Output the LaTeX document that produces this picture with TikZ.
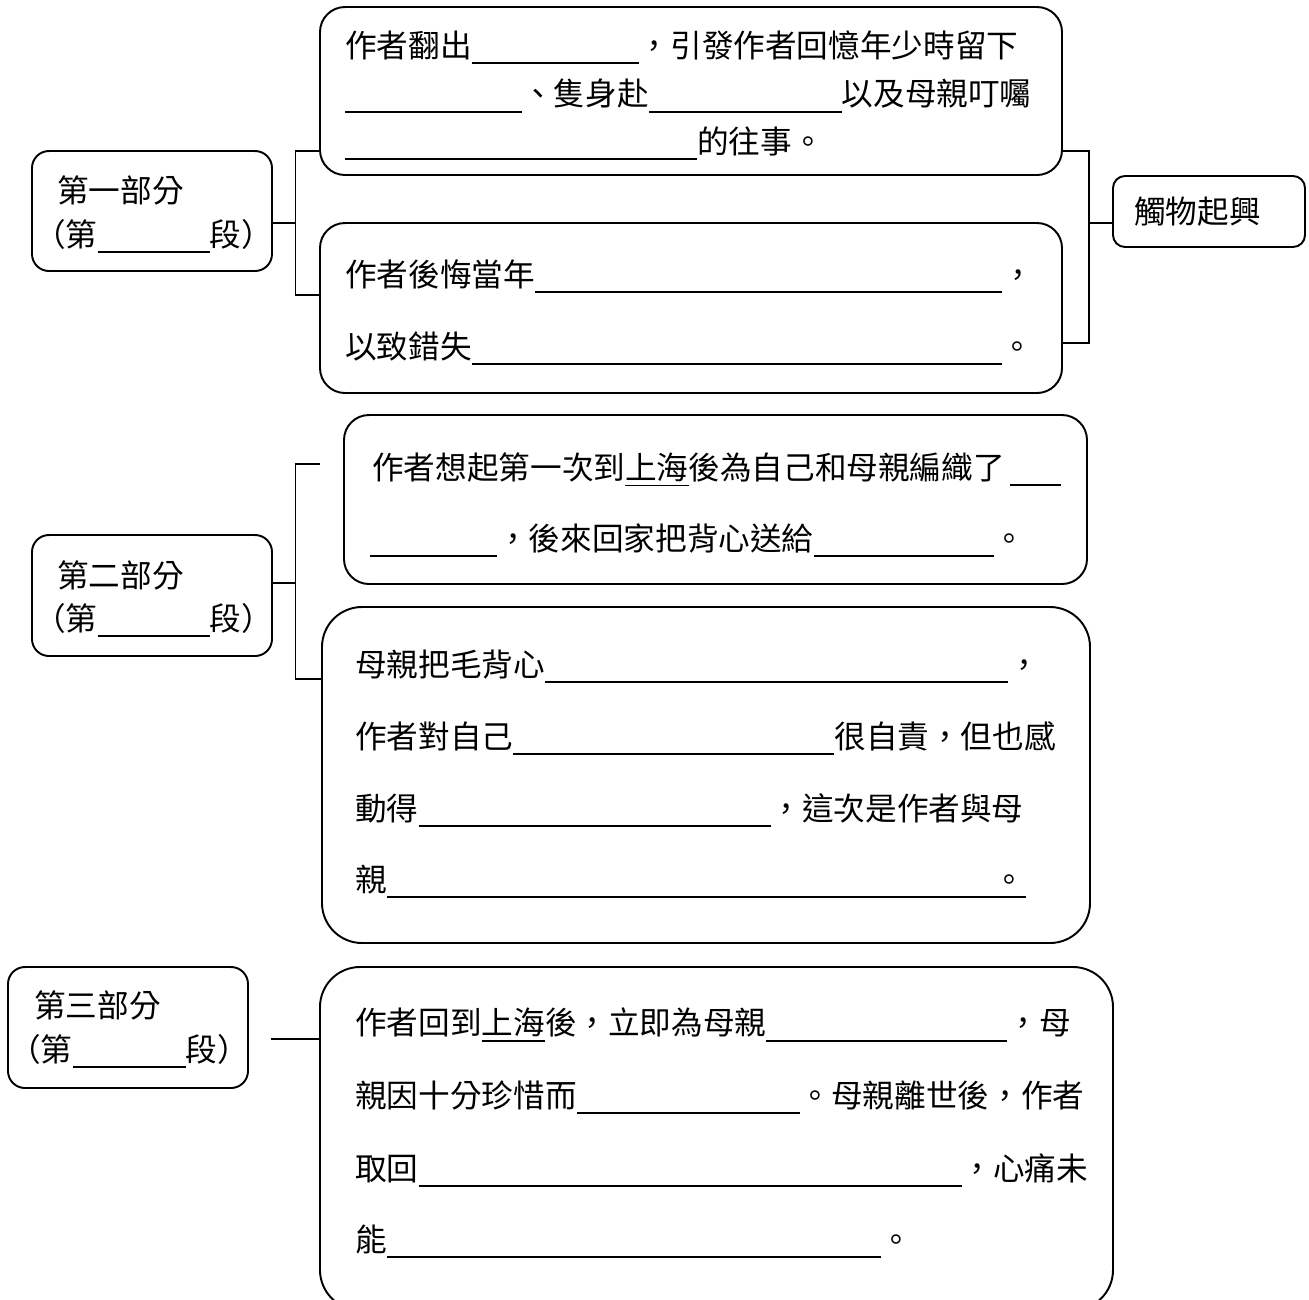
\documentclass[tikz,border=0pt]{standalone}
\usepackage{fontspec}
\newfontfamily\cjk{Noto Sans CJK TC}
\newdimen\pxu \pxu=0.02cm
\newcommand{\gapline}[1]{\rlap{\rule[-4pt]{#1\pxu}{1.1pt}}\hspace{#1\pxu}}
\newcommand{\ulmark}[1]{\setbox0\hbox{#1}\rlap{\rule[-4pt]{\wd0}{0.7pt}}\box0}
\begin{document}
\begin{tikzpicture}[x=0.02cm, y=-0.02cm,
		frame/.style={draw, line width=1.1pt, inner sep=0pt, rounded corners=#1},
		link/.style={line width=1.1pt},
		txt/.style={anchor=base west, inner sep=0pt, font=\cjk\fontsize{18pt}{22pt}\selectfont}]
			\useasboundingbox (0,0) rectangle (1309,1299);

			\node[frame=17\pxu, minimum width=240\pxu, minimum height=120\pxu] (p1) at (152,211) {};
			\node[frame=17\pxu, minimum width=240\pxu, minimum height=121\pxu] (p2) at (152,595.5) {};
			\node[frame=17\pxu, minimum width=240\pxu, minimum height=121\pxu] (p3) at (128,1027.5) {};
			\node[frame=12\pxu, minimum width=192\pxu, minimum height=71\pxu] (tag) at (1209,211.5) {};
			\node[frame=25\pxu, minimum width=742\pxu, minimum height=168\pxu] (A) at (691,91) {};
			\node[frame=25\pxu, minimum width=742\pxu, minimum height=170\pxu] (B) at (691,308) {};
			\node[frame=25\pxu, minimum width=743\pxu, minimum height=169\pxu] (C) at (715.5,499.5) {};
			\node[frame=40\pxu, minimum width=768\pxu, minimum height=336\pxu] (D) at (706,775) {};
			\node[frame=40\pxu, minimum width=793\pxu, minimum height=343\pxu] (E) at (716.5,1138.5) {};

			\coordinate (s1) at (295.5,151);
			\coordinate (s2) at (295.5,295);
			\coordinate (sj) at (295.5,223);
			\draw[link] (A.west |- s1) -- (s1) -- (s2) -- (B.west |- s2);
			\draw[link] (p1.east |- sj) -- (sj);
			\coordinate (r1) at (1089,151);
			\coordinate (r2) at (1089,343);
			\coordinate (rj) at (1089,223);
			\draw[link] (A.east |- r1) -- (r1) -- (r2) -- (B.east |- r2);
			\draw[link] (rj) -- (tag.west |- rj);
			\coordinate (cend) at (320,464);
			\coordinate (t1) at (295.5,464);
			\coordinate (t2) at (295.5,679);
			\coordinate (tj) at (295.5,583);
			\draw[link] (cend) -- (t1) -- (t2) -- (D.west |- t2);
			\draw[link] (p2.east |- tj) -- (tj);
			\coordinate (u1) at (271,1039);
			\draw[link] (u1) -- (E.west |- u1);

			\node[txt] (p1a) at (57,202) {第一部分};
			\node[txt] (p1b) at (34,246) {（第\gapline{112}段）};
			\node[txt] (p2a) at (57,587) {第二部分};
			\node[txt] (p2b) at (34,630) {（第\gapline{112}段）};
			\node[txt] (p3a) at (34,1017) {第三部分};
			\node[txt] (p3b) at (9,1061) {（第\gapline{113}段）};
			\node[txt] (tg) at (1134,223) {觸物起興};

			\node[txt] (a1) at (345,57) {作者翻出\gapline{167}，引發作者回憶年少時留下};
			\node[txt] (a2) at (345,105.5) {\gapline{177}、隻身赴\gapline{193}以及母親叮囑};
			\node[txt] (a3) at (345,153) {\gapline{352}的往事。};
			\node[txt] (b1) at (345,286) {作者後悔當年\gapline{467}，};
			\node[txt] (b2) at (345,358) {以致錯失\gapline{530}。};
			\node[txt] (c1) at (372,479) {作者想起第一次到\ulmark{上海}後為自己和母親編織了\hspace{5\pxu}\gapline{51}};
			\node[txt] (c2) at (370,550) {\gapline{127}，後來回家把背心送給\gapline{180}。};
			\node[txt] (d1) at (355,676) {母親把毛背心\gapline{463}，};
			\node[txt] (d2) at (355,748) {作者對自己\gapline{321}很自責，但也感};
			\node[txt] (d3) at (355,820) {動得\gapline{352}，這次是作者與母};
			\node[txt] (d4) at (355,891) {親\gapline{607}\rlap{\rule[-4pt]{1em}{1.1pt}}。};
			\node[txt] (e1) at (355,1034.5) {作者回到\ulmark{上海}後，立即為母親\gapline{241}，母};
			\node[txt] (e2) at (355,1107) {親因十分珍惜而\gapline{223}。母親離世後，作者};
			\node[txt] (e3) at (355,1180) {取回\gapline{543}，心痛未};
			\node[txt] (e4) at (355,1251) {能\gapline{494}。};
		\end{tikzpicture}
\end{document}
